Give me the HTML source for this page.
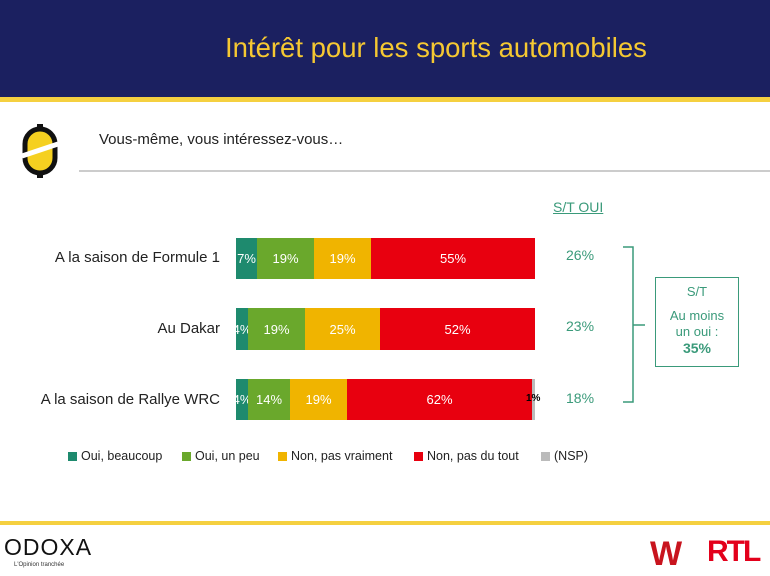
<!DOCTYPE html>
<html><head><meta charset="utf-8"><style>
body{margin:0;width:770px;height:576px;position:relative;background:#fff;font-family:"Liberation Sans",sans-serif;overflow:hidden}
.a{position:absolute}
.seg{position:absolute;top:0;height:100%;color:#fff;font-size:13px;display:flex;align-items:center;justify-content:center;white-space:nowrap}
.lab{position:absolute;right:550px;font-size:15px;color:#222;text-align:right;white-space:nowrap}
.st{position:absolute;left:566px;font-size:14px;color:#3a9a7a}
.lg{position:absolute;top:449px;font-size:12.5px;color:#222;white-space:nowrap}
.lg i{display:inline-block;width:9px;height:9px;margin-right:4px;vertical-align:-1px}
</style></head><body>
<div class="a" style="left:0;top:0;width:770px;height:97px;background:#1b2060"></div>
<div class="a" style="left:0;top:97px;width:770px;height:5px;background:#f5d040"></div>
<div class="a" style="left:225px;top:32px;font-size:27.5px;color:#f5c832;white-space:nowrap">Intérêt pour les sports automobiles</div>
<svg class="a" style="left:22px;top:124px" width="36" height="54" viewBox="0 0 36 54"><rect x="3" y="5" width="30" height="44" rx="15" fill="#f5d020" stroke="#111" stroke-width="5"/><rect x="15" y="0" width="6" height="5" fill="#111"/><rect x="15" y="49" width="6" height="5" fill="#111"/><line x1="0" y1="32" x2="36" y2="20" stroke="#fff" stroke-width="5"/></svg>
<div class="a" style="left:99px;top:131px;font-size:15px;color:#222">Vous-même, vous intéressez-vous…</div>
<div class="a" style="left:79px;top:170px;width:691px;height:2px;background:#ccc"></div>
<div class="a" style="left:553px;top:199px;font-size:14px;color:#3a9a7a;text-decoration:underline">S/T OUI</div>

<div class="lab" style="top:249px">A la saison de Formule 1</div>
<div class="a" style="left:236px;top:238px;width:299px;height:41px">
<div class="seg" style="left:0;width:21px;background:#1e8a6e">7%</div>
<div class="seg" style="left:21px;width:57px;background:#6aa82c">19%</div>
<div class="seg" style="left:78px;width:57px;background:#f0b400">19%</div>
<div class="seg" style="left:135px;width:164px;background:#e8000f">55%</div></div>
<div class="st" style="top:247px">26%</div>

<div class="lab" style="top:320px">Au Dakar</div>
<div class="a" style="left:236px;top:308px;width:299px;height:42px">
<div class="seg" style="left:0;width:12px;background:#1e8a6e">4%</div>
<div class="seg" style="left:12px;width:57px;background:#6aa82c">19%</div>
<div class="seg" style="left:69px;width:75px;background:#f0b400">25%</div>
<div class="seg" style="left:144px;width:155px;background:#e8000f">52%</div></div>
<div class="st" style="top:318px">23%</div>

<div class="lab" style="top:391px">A la saison de Rallye WRC</div>
<div class="a" style="left:236px;top:379px;width:299px;height:41px">
<div class="seg" style="left:0;width:12px;background:#1e8a6e">4%</div>
<div class="seg" style="left:12px;width:42px;background:#6aa82c">14%</div>
<div class="seg" style="left:54px;width:57px;background:#f0b400">19%</div>
<div class="seg" style="left:111px;width:185px;background:#e8000f">62%</div>
<div class="seg" style="left:296px;width:3px;background:#bbb"></div>
<div class="a" style="left:290px;top:14px;font-size:10px;font-weight:bold;color:#000">1%</div></div>
<div class="st" style="top:390px">18%</div>

<svg class="a" style="left:615px;top:244px" width="40" height="165"><path d="M8 3 H18 V158 H8 M18 81 H30" fill="none" stroke="#3a9a7a" stroke-width="1.5"/></svg>
<div class="a" style="left:655px;top:277px;width:84px;height:90px;border:1px solid #3a9a7a;text-align:center;font-size:13px;color:#3a9a7a;line-height:16px;box-sizing:border-box;padding-top:6px">S/T<div style="height:8px"></div>Au moins<br>un oui :<br><b style="font-size:14px">35%</b></div>

<div class="lg" style="left:68px"><i style="background:#1e8a6e"></i>Oui, beaucoup</div>
<div class="lg" style="left:182px"><i style="background:#6aa82c"></i>Oui, un peu</div>
<div class="lg" style="left:278px"><i style="background:#f0b400"></i>Non, pas vraiment</div>
<div class="lg" style="left:414px"><i style="background:#e8000f"></i>Non, pas du tout</div>
<div class="lg" style="left:541px"><i style="background:#bbb"></i>(NSP)</div>

<div class="a" style="left:0;top:521px;width:770px;height:4px;background:#f5d040"></div>
<div class="a" style="left:4px;top:534px;font-size:23px;letter-spacing:1px;color:#111">ODOXA</div>
<div class="a" style="left:14px;top:562px;font-size:6px;color:#333">L'Opinion tranchée</div>
<div class="a" style="left:650px;top:536px;font-size:34px;font-weight:bold;color:#c8141e;line-height:36px">W</div>
<div class="a" style="left:707px;top:535px;font-size:30px;font-weight:bold;color:#e3001b;letter-spacing:-2px">RTL</div>
</body></html>
